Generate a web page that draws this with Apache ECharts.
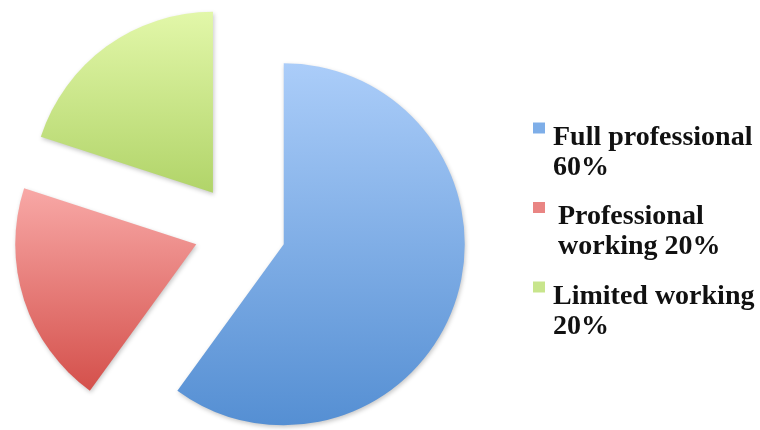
<!DOCTYPE html>
<html>
<head>
<meta charset="utf-8">
<script src="https://cdn.jsdelivr.net/npm/echarts@6/dist/echarts.min.js"></script>
<style>
html,body{margin:0;padding:0;background:#fff;}
#chart{width:760px;height:430px;}
</style>
</head>
<body>
<div id="chart"></div>
<script>
const categories = ['Full professional', 'Professional working', 'Limited working'];
const values = [60, 20, 20];
const legendLine1 = ['Full professional', 'Professional', 'Limited working'];
const legendLine2 = ['60%', 'working 20%', '20%'];
const topColors = ['#abcdf9', '#f8a8a6', '#e2f7a9'];
const bottomColors = ['#558fd3', '#d4504b', '#b1d469'];
const midColors = ['#7eaee8', '#e98583', '#c8e58c'];
const indents = [8, 13, 8];

function grad(i) {
  return new echarts.graphic.LinearGradient(0, 0, 0, 1, [
    { offset: 0, color: topColors[i] },
    { offset: 1, color: bottomColors[i] }
  ]);
}

const FS = 28, LH = 30;
const rich = {
  t: { fontFamily: 'Liberation Serif', fontWeight: 'bold', fontSize: FS, color: '#111', lineHeight: LH }
};
categories.forEach((c, i) => {
  rich['sq' + i] = { backgroundColor: midColors[i], width: 12, height: 11, verticalAlign: 'top' };
  rich['g' + i] = { width: indents[i], height: 1 };
  rich['h' + i] = { width: 12 + indents[i], height: 1 };
});

const chart = echarts.init(document.getElementById('chart'), null, { renderer: 'canvas' });
chart.setOption({
  animation: false,
  legend: {
    orient: 'vertical',
    left: 528,
    top: 114,
    padding: 0,
    itemWidth: 0,
    itemHeight: 0,
    itemGap: 11,
    icon: 'none',
    selectedMode: false,
    data: categories,
    formatter: function (name) {
      const i = categories.indexOf(name);
      return '{sq' + i + '|}{g' + i + '|}{t|' + legendLine1[i] + '}\n{h' + i + '|}{t|' + legendLine2[i] + '}';
    },
    textStyle: { rich: rich, fontFamily: 'Liberation Serif', fontWeight: 'bold', fontSize: FS, color: '#111', lineHeight: LH }
  },
  series: [{
    type: 'pie',
    center: [240, 230],
    radius: [0, 181],
    startAngle: 90,
    clockwise: true,
    selectedMode: 'multiple',
    selectedOffset: 46,
    avoidLabelOverlap: false,
    label: { show: false },
    labelLine: { show: false },
    emphasis: { disabled: true },
    itemStyle: {
      shadowBlur: 4,
      shadowColor: 'rgba(0,0,0,0.22)',
      shadowOffsetX: 1,
      shadowOffsetY: 2
    },
    data: categories.map((c, i) => ({
      name: c,
      value: values[i],
      selected: true,
      itemStyle: { color: grad(i) },
      select: { itemStyle: { color: grad(i) } }
    }))
  }]
});
</script>
</body>
</html>
